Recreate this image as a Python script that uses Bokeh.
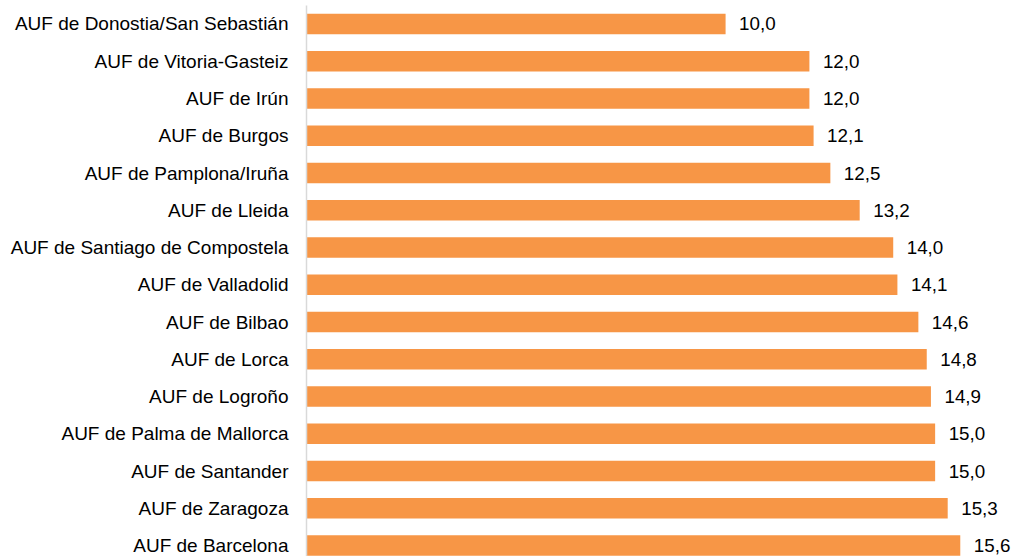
from bokeh.plotting import figure
from bokeh.models import ColumnDataSource, Range1d, FixedTicker
from bokeh.core.properties import value
from bokeh.embed import file_html
from bokeh.resources import INLINE

categories = [
    "AUF de Donostia/San Sebastián",
    "AUF de Vitoria-Gasteiz",
    "AUF de Irún",
    "AUF de Burgos",
    "AUF de Pamplona/Iruña",
    "AUF de Lleida",
    "AUF de Santiago de Compostela",
    "AUF de Valladolid",
    "AUF de Bilbao",
    "AUF de Lorca",
    "AUF de Logroño",
    "AUF de Palma de Mallorca",
    "AUF de Santander",
    "AUF de Zaragoza",
    "AUF de Barcelona",
]
values = [10.0, 12.0, 12.0, 12.1, 12.5, 13.2, 14.0, 14.1, 14.6, 14.8, 14.9, 15.0, 15.0, 15.3, 15.6]

positions = list(range(len(categories)))
labels = [f"{v:.1f}".replace(".", ",") for v in values]

source = ColumnDataSource(dict(y=positions, v=values, lab=labels))

FONT = "Liberation Sans"

p = figure(
    width=1013, height=556,
    output_backend="svg", toolbar_location=None,
    x_axis_location=None,
    x_range=Range1d(0, 16.87),
    y_range=Range1d(14.295, -0.4966),
    min_border_left=306, min_border_right=0,
    min_border_top=5, min_border_bottom=0,
)
p.outline_line_color = None
p.background_fill_color = "white"
p.border_fill_color = "white"
p.xgrid.visible = False
p.ygrid.visible = False

p.hbar(y="y", left=0, right="v", height=0.55, source=source,
       fill_color="#F79646", line_color=None)

p.text(x="v", y="y", text="lab", source=source,
       x_offset=13.5, text_align="left", text_baseline="middle",
       text_font=value(FONT), text_font_size="18.8px", text_color="#000000")

ax = p.yaxis[0]
ax.ticker = FixedTicker(ticks=positions)
ax.major_label_overrides = {i: c for i, c in zip(positions, categories)}
ax.major_label_text_font = FONT
ax.major_label_text_font_size = "19px"
ax.major_label_text_color = "#000000"
ax.major_label_standoff = 12
ax.major_tick_line_color = None
ax.minor_tick_line_color = None
ax.axis_line_color = "#d9d9d9"
ax.axis_line_width = 1.5

open("out.html", "w").write(file_html(p, INLINE))
